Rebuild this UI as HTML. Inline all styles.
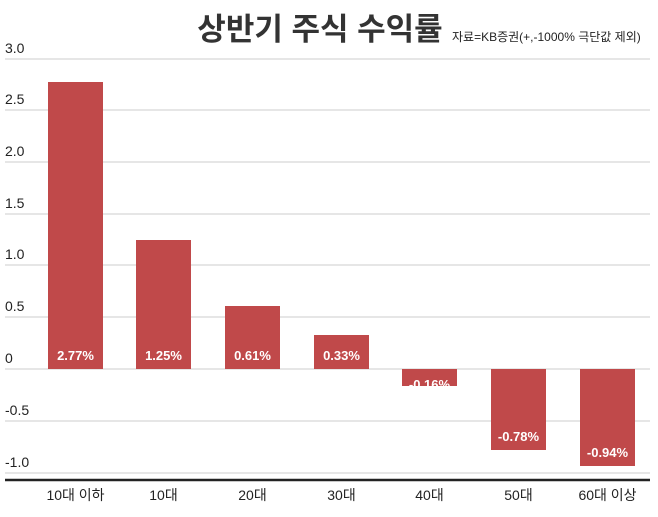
<!DOCTYPE html>
<html><head><meta charset="utf-8"><style>
body{margin:0;background:#fff;width:658px;height:512px;overflow:hidden;font-family:"Liberation Sans","Noto Sans CJK KR",sans-serif}
</style></head><body>
<svg width="658" height="512" xmlns="http://www.w3.org/2000/svg" font-family="Liberation Sans, Noto Sans CJK KR, sans-serif">
<text x="320" y="40" text-anchor="middle" font-size="31" font-weight="bold" fill="#333">상반기 주식 수익률</text>
<text x="452" y="41" font-size="12" fill="#222">자료=KB증권(+,-1000% 극단값 제외)</text>
<g stroke="#ddd" stroke-width="1.5">
<line x1="5" x2="650" y1="59" y2="59"/><line x1="5" x2="650" y1="110" y2="110"/>
<line x1="5" x2="650" y1="162" y2="162"/><line x1="5" x2="650" y1="214" y2="214"/>
<line x1="5" x2="650" y1="265" y2="265"/><line x1="5" x2="650" y1="317" y2="317"/>
<line x1="5" x2="650" y1="369" y2="369"/><line x1="5" x2="650" y1="421" y2="421"/>
<line x1="5" x2="650" y1="473" y2="473"/>
</g>
<g font-size="14" fill="#222">
<text x="5" y="53">3.0</text><text x="5" y="104">2.5</text><text x="5" y="156">2.0</text>
<text x="5" y="208">1.5</text><text x="5" y="259">1.0</text><text x="5" y="311">0.5</text>
<text x="5" y="363">0</text><text x="5" y="415">-0.5</text><text x="5" y="467">-1.0</text>
</g>
<g fill="#c0494a">
<rect x="48" y="82" width="55" height="287"/>
<rect x="136" y="240" width="55" height="129"/>
<rect x="225" y="306" width="55" height="63"/>
<rect x="314" y="335" width="55" height="34"/>
<rect x="402" y="369" width="55" height="17"/>
<rect x="491" y="369" width="55" height="81"/>
<rect x="580" y="369" width="55" height="97"/>
</g>
<g font-size="13" font-weight="bold" fill="#fff" text-anchor="middle">
<text x="75.5" y="360">2.77%</text><text x="163.5" y="360">1.25%</text>
<text x="252.5" y="360">0.61%</text><text x="341.5" y="360">0.33%</text>
<text x="429.5" y="389">-0.16%</text><text x="518.5" y="441">-0.78%</text>
<text x="607.5" y="457">-0.94%</text>
</g>
<line x1="5" x2="650" y1="480" y2="480" stroke="#222" stroke-width="2.5"/>
<g font-size="14" fill="#222" text-anchor="middle">
<text x="75.5" y="500">10대 이하</text><text x="163.5" y="500">10대</text>
<text x="252.5" y="500">20대</text><text x="341.5" y="500">30대</text>
<text x="429.5" y="500">40대</text><text x="518.5" y="500">50대</text>
<text x="607.5" y="500">60대 이상</text>
</g>
</svg>
</body></html>
